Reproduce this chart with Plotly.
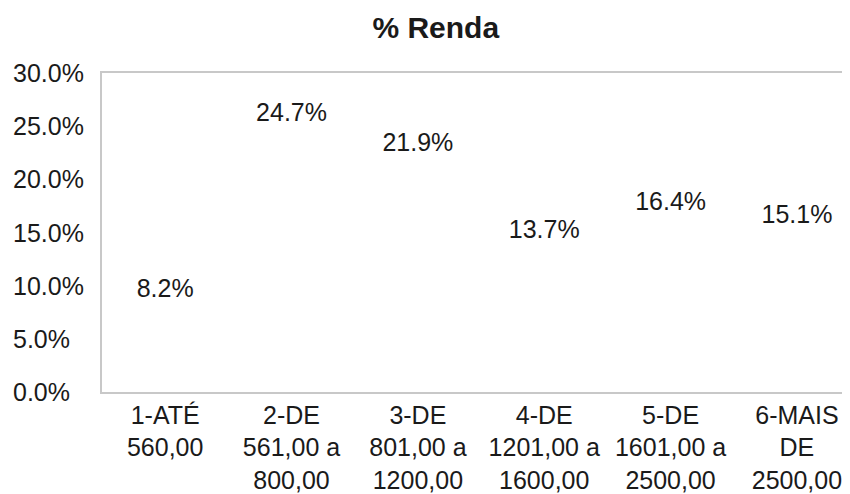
import plotly.graph_objects as go

categories = [
    "1-ATÉ<br>560,00",
    "2-DE<br>561,00 a<br>800,00",
    "3-DE<br>801,00 a<br>1200,00",
    "4-DE<br>1201,00 a<br>1600,00",
    "5-DE<br>1601,00 a<br>2500,00",
    "6-MAIS<br>DE<br>2500,00",
]
values = [0.082, 0.247, 0.219, 0.137, 0.164, 0.151]
labels = ["8.2%", "24.7%", "21.9%", "13.7%", "16.4%", "15.1%"]
y_ticks = [0.0, 0.05, 0.10, 0.15, 0.20, 0.25, 0.30]
y_tick_labels = ["0.0%", "5.0%", "10.0%", "15.0%", "20.0%", "25.0%", "30.0%"]

FONT = "Liberation Sans, Arial, sans-serif"
TXT = "#1a1a1a"
AXC = "#c8c8c8"

fig = go.Figure()
fig.add_trace(go.Bar(
    x=list(range(len(categories))),
    y=values,
    text=labels,
    textposition="outside",
    textfont=dict(family=FONT, size=25, color=TXT),
    marker=dict(color="rgba(0,0,0,0)", line=dict(width=0)),
    cliponaxis=False,
    hoverinfo="skip",
))

annotations = []
for v, t in zip(y_ticks, y_tick_labels):
    annotations.append(dict(
        x=0, xref="paper", y=v, yref="y", text=t, showarrow=False,
        xanchor="left", yanchor="middle", xshift=-91,
        font=dict(family=FONT, size=25, color=TXT),
    ))

fig.update_layout(
    width=842, height=486,
    margin=dict(l=94, r=0, t=65, b=102),
    paper_bgcolor="white", plot_bgcolor="white",
    showlegend=False,
    title=dict(text="<b>% Renda</b>", x=0.508, xanchor="center",
               y=0.959, yanchor="middle", yref="container",
               font=dict(family=FONT, size=30, color=TXT)),
    xaxis=dict(
        tickmode="array", tickvals=list(range(len(categories))), ticktext=categories,
        range=[-0.5, 5.42], showgrid=False, zeroline=False,
        showline=True, linecolor=AXC, linewidth=1.5, mirror=True,
        ticks="", tickfont=dict(family=FONT, size=25, color=TXT),
        tickangle=0, fixedrange=True,
    ),
    yaxis=dict(
        range=[0, 0.30], showgrid=False, zeroline=False,
        showline=True, linecolor=AXC, linewidth=1.5,
        showticklabels=False, ticks="", tickvals=y_ticks, fixedrange=True,
    ),
    annotations=annotations,
    bargap=0.3,
)

fig.write_html("out.html")
